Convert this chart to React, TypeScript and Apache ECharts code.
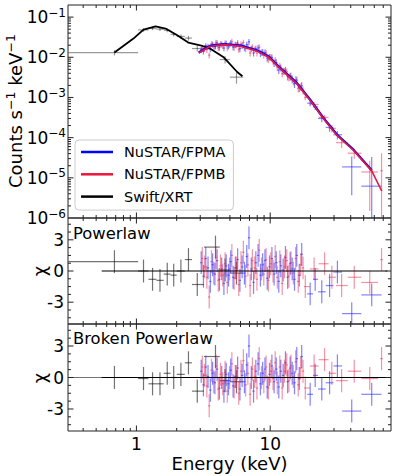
import React, { useEffect, useRef } from 'react';
import * as echarts from 'echarts';

const FONT = 'DejaVu Sans';
const UNIT = 1e-3; // flux arrays are in units of 1e-3 counts s^-1 keV^-1

// ---------- axes ----------
const X_MIN = 0.308;
const X_MAX = 80;
const F_MIN = 1e-6;
const F_MAX = 0.2;
const C_MIN = -5.1;
const C_MAX = 5.1;

const X_MAJOR = [1, 10];
const X_MINOR = [0.4, 0.5, 0.6, 0.7, 0.8, 0.9, 2, 3, 4, 5, 6, 7, 8, 9, 20, 30, 40, 50, 60, 70];
const F_MAJOR = [1e-6, 1e-5, 1e-4, 1e-3, 1e-2, 1e-1];
const MANTISSA = [2, 3, 4, 5, 6, 7, 8, 9];
const F_MINOR = F_MAJOR.flatMap((d) => MANTISSA.map((m) => m * d)).filter((v) => v < F_MAX * 0.999);
const C_MAJOR = [-3, 0, 3];
const C_MINOR = [-4.5, -3.75, -2.25, -1.5, -0.75, 0.75, 1.5, 2.25, 3.75, 4.5];

// ---------- Swift/XRT ----------
const SWIFT_E = [0.685, 1.13, 1.32, 1.5, 1.7, 1.9, 2.15, 2.45, 2.85, 3.9, 4.6, 5.6];
const SWIFT_LO = [0.31, 1.03, 1.23, 1.41, 1.6, 1.8, 2.0, 2.3, 2.6, 3.2, 4.2, 5.0];
const SWIFT_HI = [1.03, 1.23, 1.41, 1.6, 1.8, 2.0, 2.3, 2.6, 3.2, 4.2, 5.0, 6.3];
const SWIFT_FLUX = [13.1, 48, 52, 50, 47, 37, 33, 30, 16.5, 19, 8.8, 3.2];
const SWIFT_ERR = [2.0, 5, 5, 5, 5, 4, 4, 4, 2.5, 3, 1.8, 1.0];
const SWIFT_RES_PL = [0.9, 0.0, -0.8, -0.9, -0.3, -0.4, 0.0, 1.1, -1.3, 2.3, 0.1, -0.2];
const SWIFT_RES_BPL = [0.0, -0.1, -0.6, -0.6, 0.4, 0.0, 0.3, 1.4, -1.3, 2.0, -0.3, -0.4];
const SWIFT_MODEL_E = [0.685, 0.95, 1.13, 1.39, 1.65, 2.02, 2.44, 3.0, 3.57, 4.46, 5.67, 6.2];
const SWIFT_MODEL_F = [13.1, 29.2, 48.9, 59, 51.8, 35.2, 23.2, 19.9, 16.4, 10.2, 4.3, 3.36];

// ---------- NuSTAR FPMA ----------
const A_E = [3.05, 3.17, 3.3, 3.43, 3.57, 3.71, 3.86, 4.01, 4.17, 4.34, 4.51, 4.69, 4.88, 5.07, 5.28, 5.49, 5.71, 5.94, 6.17, 6.42, 6.68, 6.94, 7.22, 7.51, 7.81, 8.12, 8.45, 8.78, 9.14, 9.5, 9.88, 10.3, 10.7, 11.1, 11.6, 12.0, 12.5, 13.0, 13.5, 14.1, 14.6, 15.2, 15.8, 16.5, 17.2];
const A_FLUX = [15.6, 14.0, 19.2, 18.4, 16.0, 20.8, 18.5, 22.7, 17.6, 21.0, 17.0, 21.9, 19.0, 22.7, 18.0, 20.5, 22.5, 16.5, 19.6, 17.3, 20.7, 24.3, 16.3, 12.7, 16.4, 17.0, 12.5, 13.5, 13.1, 9.5, 10.2, 9.9, 7.1, 7.4, 4.8, 5.5, 4.6, 4.8, 3.3, 3.4, 2.9, 2.2, 2.7, 1.75, 1.95];
const A_RES_PL = [0.8, -0.5, 1.2, 0.3, -1.0, 0.6, -0.3, 1.0, -0.8, 0.2, -1.2, 0.5, -0.4, 0.9, -0.6, 0.3, 1.1, -0.9, 0.4, -0.2, 1.4, 3.2, 0.2, -1.1, 0.8, 1.5, -0.4, 0.6, 1.0, -0.7, 0.4, 1.2, -0.3, 0.8, -1.0, 0.5, 0.1, 1.3, -0.6, 0.7, 0.2, -0.8, 1.5, -0.4, 1.6];
const A_RES_BPL = [0.6, -0.7, 1.0, 0.1, -1.2, 0.4, -0.5, 0.8, -1.0, 0.0, -1.3, 0.3, -0.6, 0.7, -0.8, 0.1, 0.9, -1.1, 0.2, -0.4, 1.2, 3.0, 0.0, -1.3, 0.6, 1.3, -0.6, 0.4, 0.8, -0.9, 0.3, 1.1, -0.4, 0.8, -0.9, 0.6, 0.2, 1.4, -0.4, 0.9, 0.4, -0.5, 1.8, -0.1, 2.0];
const A_HI_E = [19.9, 21.7, 24.3, 27.8, 31.8, 40.7, 57.4];
const A_HI_LO = [18.9, 20.9, 22.8, 26.0, 29.7, 34.5, 48.0];
const A_HI_HI = [20.9, 22.8, 26.0, 29.7, 34.5, 48.0, 68.0];
const A_HI_FLUX = [0.72, 0.58, 0.3, 0.18, 0.118, 0.0187, 0.0062];
const A_HI_ERR = [0.12, 0.09, 0.06, 0.04, 0.028, 0.015, 0.027];
const A_HI_RES_PL = [-2.2, -0.8, -2.0, -1.4, -0.1, -4.1, -2.3];
const A_HI_RES_BPL = [-1.6, 0.2, -1.1, -0.5, 1.1, -3.2, -1.6];

// ---------- NuSTAR FPMB ----------
const B_E = [3.11, 3.23, 3.36, 3.5, 3.64, 3.78, 3.93, 4.09, 4.25, 4.42, 4.6, 4.78, 4.97, 5.17, 5.38, 5.6, 5.82, 6.05, 6.3, 6.55, 6.81, 7.08, 7.36, 7.66, 7.96, 8.28, 8.61, 8.96, 9.32, 9.69, 10.1, 10.5, 10.9, 11.3, 11.8, 12.3, 12.8, 13.3, 13.8, 14.3, 14.9, 15.5, 16.2, 16.9, 17.6];
const B_FLUX = [17.1, 16.7, 15.4, 11.3, 21.6, 18.7, 23.4, 17.2, 21.7, 19.3, 22.8, 17.0, 20.7, 24.4, 17.6, 20.3, 15.5, 21.2, 23.1, 16.2, 18.3, 12.7, 17.8, 15.6, 12.7, 17.7, 13.3, 11.4, 12.8, 8.8, 10.1, 8.0, 8.5, 5.6, 6.1, 3.9, 4.5, 4.4, 3.1, 3.4, 2.55, 2.8, 1.7, 1.85, 1.5];
const B_RES_PL = [1.2, 0.4, -0.6, -2.5, 0.9, -0.2, 1.3, -0.9, 0.5, -0.4, 0.7, -1.1, 0.2, 1.5, -0.7, 0.3, -1.3, 0.8, 1.8, -0.5, 0.6, -1.4, 1.0, 0.3, -0.8, 2.0, 0.2, -0.3, 1.1, -0.9, 0.7, 0.0, 1.4, -0.6, 0.9, -1.2, 0.4, 1.0, -0.5, 0.8, -0.2, 1.2, -1.0, 0.6, 0.3];
const B_RES_BPL = [1.0, 0.2, -0.8, -2.7, 0.7, -0.4, 1.1, -1.1, 0.3, -0.6, 0.5, -1.3, 0.0, 1.3, -0.9, 0.1, -1.5, 0.6, 1.6, -0.7, 0.4, -1.6, 0.8, 0.1, -1.0, 1.8, 0.0, -0.4, 1.0, -1.0, 0.6, -0.1, 1.4, -0.5, 1.0, -1.0, 0.6, 1.2, -0.3, 1.1, 0.1, 1.5, -0.7, 0.9, 0.6];
const B_HI_E = [18.3, 21.3, 25.5, 28.9, 34.2, 42.5, 55.5, 68.0];
const B_HI_LO = [17.9, 19.8, 23.0, 27.3, 31.0, 38.0, 48.0, 66.5];
const B_HI_HI = [19.8, 23.0, 27.3, 31.0, 38.0, 48.0, 64.0, 69.5];
const B_HI_FLUX = [1.0, 0.67, 0.32, 0.17, 0.075, 0.041, 0.014, 0.015];
const B_HI_ERR = [0.15, 0.09, 0.05, 0.035, 0.02, 0.011, 0.0125, 0.026];
const B_HI_RES_PL = [-1.5, 0.2, 0.7, -0.6, -1.4, -0.6, -1.1, 1.1];
const B_HI_RES_BPL = [-1.0, 1.1, 1.7, 0.4, -0.3, 0.6, -0.1, 1.8];

// relative flux errors of the dense NuSTAR bins: [upper energy, fraction]
const REL_ERR_BANDS = [[5, 0.17], [8, 0.18], [11, 0.19], [14, 0.2], [99, 0.22]];
const CHI_ERR = 1.1;

// ---------- NuSTAR models ----------
const NU_MODEL_E = [2.92, 3.57, 4.48, 5.97, 7.96, 9.7, 11.9, 15.8, 19.9, 25.0, 31.5, 41.9, 57.4, 68.2];
const NU_MODEL_A = [13.2, 19.4, 21.3, 19.7, 14.8, 10.5, 5.4, 2.29, 0.88, 0.307, 0.119, 0.05, 0.0154];
const NU_MODEL_B = [12.8, 18.8, 20.7, 19.1, 14.4, 10.2, 5.24, 2.22, 0.85, 0.298, 0.115, 0.0486, 0.0149, 0.0047];

const ZERO_LINE_E = [0.55, 75];

const BLUE = '#0000ff';
const RED = '#e8173c';
const BLUE_DATA = 'rgba(30,30,255,0.55)';
const RED_DATA = 'rgba(230,30,70,0.48)';
const SWIFT_TOP = 'rgba(0,0,0,0.4)';
const SWIFT_RES = 'rgba(0,0,0,0.55)';
const AXIS_COLOR = '#222';

function binEdges(E: number[]) {
  const lo: number[] = [];
  const hi: number[] = [];
  for (let i = 0; i < E.length; i++) {
    const prev = i > 0 ? Math.sqrt(E[i - 1] * E[i]) : null;
    const next = i < E.length - 1 ? Math.sqrt(E[i] * E[i + 1]) : null;
    lo.push(prev !== null ? prev : (E[i] * E[i]) / (next as number));
    hi.push(next !== null ? next : (E[i] * E[i]) / (prev as number));
  }
  return [lo, hi];
}

function relErr(e: number) {
  for (const [lim, f] of REL_ERR_BANDS) if (e <= lim) return f;
  return REL_ERR_BANDS[REL_ERR_BANDS.length - 1][1];
}

function fluxRows(E: number[], lo: number[], hi: number[], f: number[], err: number[]) {
  return E.map((e, i) => [e, lo[i], hi[i], f[i] * UNIT, (f[i] - err[i]) * UNIT, (f[i] + err[i]) * UNIT]);
}
function resRows(E: number[], lo: number[], hi: number[], r: number[]) {
  return E.map((e, i) => [e, lo[i], hi[i], r[i], r[i] - CHI_ERR, r[i] + CHI_ERR]);
}

const clampV = (v: number, a: number, b: number) => Math.min(Math.max(v, a), b);

function errSeries(rows: number[][], color: string, idx: number, yb: number[], z: number) {
  return {
    type: 'custom',
    xAxisIndex: idx,
    yAxisIndex: idx,
    data: rows,
    encode: { x: 0, y: 3 },
    silent: true,
    z,
    renderItem: (_p: any, api: any) => {
      const x = api.value(0);
      const xl = clampV(api.value(1), X_MIN, X_MAX);
      const xh = clampV(api.value(2), X_MIN, X_MAX);
      const y = api.value(3);
      const yl = clampV(api.value(4) > 0 || yb[0] <= 0 ? api.value(4) : yb[0], yb[0], yb[1]);
      const yh = clampV(api.value(5), yb[0], yb[1]);
      const children: any[] = [];
      const st = { stroke: color, lineWidth: 1.2 };
      if (y >= yb[0] && y <= yb[1]) {
        const a = api.coord([xl, y]);
        const b = api.coord([xh, y]);
        children.push({ type: 'line', shape: { x1: a[0], y1: a[1], x2: b[0], y2: b[1] }, style: st });
      }
      const c = api.coord([x, yl]);
      const d = api.coord([x, yh]);
      children.push({ type: 'line', shape: { x1: c[0], y1: c[1], x2: d[0], y2: d[1] }, style: st });
      return { type: 'group', children };
    },
  };
}

function tickSeries(idx: number, yMajor: number[], yMinor: number[], refY: number) {
  return {
    type: 'custom',
    xAxisIndex: idx,
    yAxisIndex: idx,
    data: [[1, refY]],
    silent: true,
    z: 20,
    renderItem: (params: any, api: any) => {
      const cs = params.coordSys;
      const left = cs.x;
      const right = cs.x + cs.width;
      const top = cs.y;
      const bottom = cs.y + cs.height;
      const children: any[] = [];
      const add = (x1: number, y1: number, x2: number, y2: number) =>
        children.push({ type: 'line', shape: { x1, y1, x2, y2 }, style: { stroke: AXIS_COLOR, lineWidth: 1 } });
      const xs: [number[], number][] = [[X_MAJOR, 5.5], [X_MINOR, 3]];
      for (const [vals, len] of xs) {
        for (const v of vals) {
          const px = api.coord([v, refY])[0];
          if (px < left + 0.5 || px > right - 0.5) continue;
          add(px, bottom, px, bottom - len);
          add(px, top, px, top + len);
        }
      }
      const ys: [number[], number][] = [[yMajor, 5.5], [yMinor, 3]];
      for (const [vals, len] of ys) {
        for (const v of vals) {
          const py = api.coord([1, v])[1];
          if (py < top + 0.5 || py > bottom - 0.5) continue;
          add(left, py, left + len, py);
          add(right, py, right - len, py);
        }
      }
      return { type: 'group', children };
    },
  };
}

export default function App() {
  const ref = useRef<HTMLDivElement>(null);

  useEffect(() => {
    if (!ref.current) return;
    const chart = echarts.init(ref.current, undefined, { renderer: 'svg' });

    const [aLo, aHi] = binEdges(A_E);
    const [bLo, bHi] = binEdges(B_E);
    const aErr = A_E.map((e, i) => A_FLUX[i] * relErr(e));
    const bErr = B_E.map((e, i) => B_FLUX[i] * relErr(e));

    const swiftTop = fluxRows(SWIFT_E, SWIFT_LO, SWIFT_HI, SWIFT_FLUX, SWIFT_ERR);
    const aTop = fluxRows(A_E, aLo, aHi, A_FLUX, aErr).concat(fluxRows(A_HI_E, A_HI_LO, A_HI_HI, A_HI_FLUX, A_HI_ERR));
    const bTop = fluxRows(B_E, bLo, bHi, B_FLUX, bErr).concat(fluxRows(B_HI_E, B_HI_LO, B_HI_HI, B_HI_FLUX, B_HI_ERR));

    const resPanels = [
      { idx: 1, swift: SWIFT_RES_PL, a: A_RES_PL, aHi: A_HI_RES_PL, b: B_RES_PL, bHi: B_HI_RES_PL },
      { idx: 2, swift: SWIFT_RES_BPL, a: A_RES_BPL, aHi: A_HI_RES_BPL, b: B_RES_BPL, bHi: B_HI_RES_BPL },
    ];

    const fb = [F_MIN, F_MAX];
    const cb = [C_MIN, C_MAX];

    const series: any[] = [
      errSeries(swiftTop, SWIFT_TOP, 0, fb, 2),
      errSeries(aTop, BLUE_DATA, 0, fb, 2),
      errSeries(bTop, RED_DATA, 0, fb, 2),
      {
        type: 'line', name: 'Swift/XRT', xAxisIndex: 0, yAxisIndex: 0, symbol: 'none', color: '#000', z: 5,
        lineStyle: { color: '#000', width: 1.8 },
        data: SWIFT_MODEL_E.map((e, i) => [e, SWIFT_MODEL_F[i] * UNIT]),
      },
      {
        type: 'line', name: 'NuSTAR/FPMA', xAxisIndex: 0, yAxisIndex: 0, symbol: 'none', color: BLUE, z: 5,
        lineStyle: { color: BLUE, width: 2.4 },
        data: NU_MODEL_A.map((f, i) => [NU_MODEL_E[i], f * UNIT]),
      },
      {
        type: 'line', name: 'NuSTAR/FPMB', xAxisIndex: 0, yAxisIndex: 0, symbol: 'none', color: RED, z: 6,
        lineStyle: { color: RED, width: 1.6 },
        data: NU_MODEL_B.map((f, i) => [NU_MODEL_E[i], f * UNIT]),
      },
      tickSeries(0, F_MAJOR, F_MINOR, 1e-3),
    ];

    for (const p of resPanels) {
      series.push(errSeries(resRows(SWIFT_E, SWIFT_LO, SWIFT_HI, p.swift), SWIFT_RES, p.idx, cb, 2));
      series.push(errSeries(resRows(A_E, aLo, aHi, p.a).concat(resRows(A_HI_E, A_HI_LO, A_HI_HI, p.aHi)), BLUE_DATA, p.idx, cb, 2));
      series.push(errSeries(resRows(B_E, bLo, bHi, p.b).concat(resRows(B_HI_E, B_HI_LO, B_HI_HI, p.bHi)), RED_DATA, p.idx, cb, 2));
      series.push({
        type: 'line', xAxisIndex: p.idx, yAxisIndex: p.idx, symbol: 'none', z: 8, silent: true,
        lineStyle: { color: '#000', width: 1.2 },
        data: ZERO_LINE_E.map((e) => [e, 0]),
      });
      series.push(tickSeries(p.idx, C_MAJOR, C_MINOR, 0));
    }

    const gridBase = { left: 68, width: 323, show: true, borderColor: AXIS_COLOR, borderWidth: 1, backgroundColor: 'transparent' };
    const isPow10 = (v: number) => {
      const l = Math.log10(v);
      return Math.abs(l - Math.round(l)) < 1e-6;
    };

    const xAxes = [0, 1, 2].map((i) => ({
      type: 'log', logBase: 10, gridIndex: i, min: X_MIN, max: X_MAX,
      axisLine: { show: false }, axisTick: { show: false }, splitLine: { show: false },
      axisLabel: i === 2
        ? {
          show: true, margin: 4, color: '#000', fontFamily: FONT, fontSize: 17,
          formatter: (v: number) => (isPow10(v) ? String(Math.round(v)) : ''),
        }
        : { show: false },
      name: i === 2 ? 'Energy (keV)' : '',
      nameLocation: 'middle',
      nameGap: 23,
      nameTextStyle: { color: '#000', fontFamily: FONT, fontSize: 18 },
    }));

    const yAxes: any[] = [
      {
        type: 'log', logBase: 10, gridIndex: 0, min: F_MIN, max: F_MAX,
        axisLine: { show: false }, axisTick: { show: false }, splitLine: { show: false },
        axisLabel: {
          margin: 2, color: '#000',
          formatter: (v: number) => {
            if (!isPow10(v)) return '';
            const e = Math.round(Math.log10(v));
            return `{b|10}{s|−${-e}}`;
          },
          rich: {
            b: { fontSize: 17, fontFamily: FONT, color: '#000', lineHeight: 17 },
            s: { fontSize: 12, fontFamily: FONT, color: '#000', lineHeight: 12, padding: [0, 0, 9, 0] },
          },
        },
      },
      ...[1, 2].map((i) => ({
        type: 'value', gridIndex: i, min: C_MIN, max: C_MAX,
        axisLine: { show: false }, axisTick: { show: false }, splitLine: { show: false },
        axisLabel: {
          margin: 4, color: '#000', fontFamily: FONT, fontSize: 17,
          customValues: C_MAJOR,
          formatter: (v: number) => (C_MAJOR.includes(v) ? String(v) : ''),
        },
      })),
    ];

    const option: any = {
      animation: false,
      backgroundColor: '#fff',
      grid: [
        { ...gridBase, top: 5, height: 213 },
        { ...gridBase, top: 218, height: 106 },
        { ...gridBase, top: 324, height: 107 },
      ],
      xAxis: xAxes,
      yAxis: yAxes,
      legend: {
        orient: 'vertical', left: 75, top: 140,
        data: ['NuSTAR/FPMA', 'NuSTAR/FPMB', 'Swift/XRT'],
        icon: 'rect', itemWidth: 32, itemHeight: 2.5, itemGap: 7.3,
        padding: [4.5, 8, 6, 6],
        backgroundColor: 'rgba(255,255,255,0.8)', borderColor: '#cccccc', borderWidth: 1, borderRadius: 4,
        textStyle: { fontFamily: FONT, fontSize: 14.5, color: '#000', padding: [0, 0, 0, 6] },
        selectedMode: false,
        z: 30,
      },
      graphic: [
        {
          type: 'text', x: 15, y: 111, rotation: Math.PI / 2, z: 50,
          style: {
            text: '{m|Counts s}{s|−1}{m| keV}{s|−1}',
            rich: {
              m: { fontSize: 18, fontFamily: FONT, fill: '#000', lineHeight: 18 },
              s: { fontSize: 12.6, fontFamily: FONT, fill: '#000', lineHeight: 12.6, padding: [0, 0, 9, 0] },
            },
            align: 'center', verticalAlign: 'middle', textAlign: 'center', textVerticalAlign: 'middle',
          },
        },
        {
          type: 'text', x: 39, y: 271, rotation: Math.PI / 2, z: 50,
          style: { text: 'χ', fontSize: 18, fontFamily: FONT, fill: '#000', align: 'center', verticalAlign: 'middle', textAlign: 'center', textVerticalAlign: 'middle' },
        },
        {
          type: 'text', x: 39, y: 378, rotation: Math.PI / 2, z: 50,
          style: { text: 'χ', fontSize: 18, fontFamily: FONT, fill: '#000', align: 'center', verticalAlign: 'middle', textAlign: 'center', textVerticalAlign: 'middle' },
        },
        {
          type: 'text', x: 73, y: 233, z: 50,
          style: { text: 'Powerlaw', fontSize: 16.4, fontFamily: FONT, fill: '#000', align: 'left', verticalAlign: 'middle', textAlign: 'left', textVerticalAlign: 'middle' },
        },
        {
          type: 'text', x: 73, y: 338, z: 50,
          style: { text: 'Broken Powerlaw', fontSize: 16.4, fontFamily: FONT, fill: '#000', align: 'left', verticalAlign: 'middle', textAlign: 'left', textVerticalAlign: 'middle' },
        },
      ],
      series,
    };

    chart.setOption(option);
    return () => chart.dispose();
  }, []);

  return <div ref={ref} style={{ position: 'fixed', left: 0, top: 0, width: 397, height: 476 }} />;
}
